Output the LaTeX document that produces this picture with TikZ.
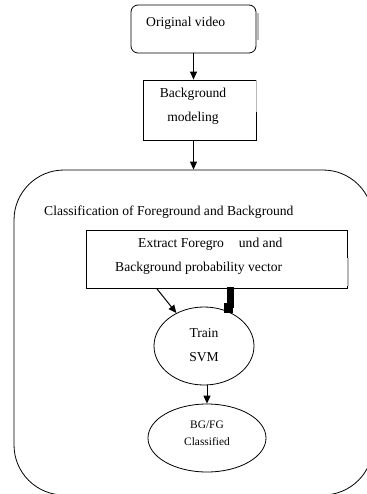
\documentclass[tikz,border=0pt]{standalone}
\usepackage{fontspec}
\setmainfont{Liberation Serif}
\usetikzlibrary{arrows.meta,shapes.geometric,calc}
\begin{document}
\begin{tikzpicture}[x=1pt,y=-1pt,
  box/.style={draw, line width=0.8pt, inner sep=0},
  arr/.style={-{Triangle[length=8pt,width=7pt]}, line width=1pt},
  txt/.style={font=\fontsize{13.6}{24}\selectfont, align=center, inner sep=0},
  smalltxt/.style={font=\fontsize{11.4}{17}\selectfont, align=center, inner sep=0},
  graybar/.style={draw=gray!55, line width=1.5pt}]
\useasboundingbox (0,0) rectangle (366,494);
% Original video
\node[box, rounded corners=7pt, minimum width=125pt, minimum height=48pt] (orig) at (193.5,29) {};
\node[txt, anchor=west] (origt) at (146,23) {Original video};
\draw[graybar] (258,13) -- (258,40);
% Background modeling
\node[box, minimum width=113pt, minimum height=60pt] (bg) at (199.5,110) {};
\node[txt] (bgt) at (193,106) {Background\\modeling};
\draw[graybar] (256.5,80) -- (256.5,112);
\draw[arr] (orig.south) -- (orig.south |- bg.north);
% Classification container
\node[box, rounded corners=50pt, minimum width=359pt, minimum height=325pt] (cls) at (193.5,332.5) {};
\node[txt, anchor=west] (clst) at (44,212) {Classification of Foreground and Background};
\draw[arr] (bg.south -| orig.south) -- (cls.north -| orig.south);
% Extract box
\node[box, minimum width=261pt, minimum height=58pt] (extract) at (216.5,259) {};
\node[txt, align=left, anchor=west] (extractt) at (115,256) {\hspace*{23pt}Extract Foregro\hspace{15pt}und and\\Background probability vector};
\draw[graybar] (348,258) -- (348,286);
% Train SVM
\node[box, ellipse, minimum width=100pt, minimum height=78pt] (svm) at (204,346) {};
\node[txt] (svmt) at (204,345) {Train\\SVM};
\draw[arr] ($(extract.south west)+(71,0)$) -- (svm.130);
\fill ($(extract.south)+(10.5,-1)$) rectangle ($(extract.south)+(17.5,20)$);
\fill ($(extract.south)+(7.5,15)$) rectangle ($(extract.south)+(16.5,25)$);
% BG/FG Classified
\node[box, ellipse, minimum width=118pt, minimum height=68pt] (res) at (207,438) {};
\node[smalltxt] (rest) at (207,433) {BG/FG\\Classified};
\draw[arr] (svm.south -| res.north) -- (res.north);
\end{tikzpicture}
\end{document}
